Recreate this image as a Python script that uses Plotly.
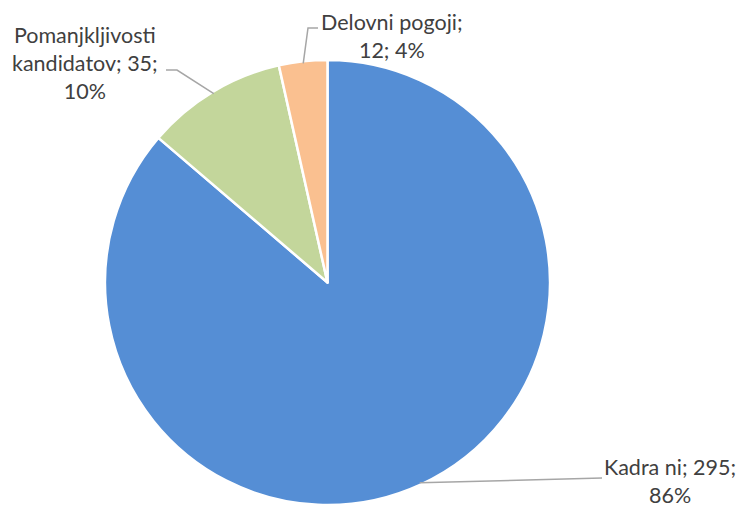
import math
import plotly.graph_objects as go

labels = ["Kadra ni", "Pomanjkljivosti kandidatov", "Delovni pogoji"]
values = [295, 35, 12]
percents = ["86%", "10%", "4%"]
label_texts = ["Kadra ni; 295;<br>86%", "Pomanjkljivosti<br>kandidatov; 35;<br>10%", "Delovni pogoji;<br>12; 4%"]
colors = ["#558ED5", "#C3D69B", "#FAC090"]

W, H = 744, 508
OFF = 8  # page body margin
cx, cy, r = 327.5 - OFF, 282.5 - OFF, 220.5
r_dom = r + 2

# label block centres and leader elbow points (page pixels)
label_pos = [(670, 481), (85, 63), (392, 36)]
elbows = [[(602, 478)], [(177, 70), (166, 70)], [(308, 28), (318, 28)]]

fig = go.Figure(go.Pie(
    labels=labels, values=values, sort=False, direction="clockwise", rotation=0,
    marker=dict(colors=colors, line=dict(color="white", width=2.5)),
    textinfo="none", hoverinfo="label+value+percent",
    domain=dict(x=[(cx - r_dom) / W, (cx + r_dom) / W], y=[(H - cy - r_dom) / H, (H - cy + r_dom) / H]),
    showlegend=False,
))

def px(x, y):
    return x / W, 1 - y / H

total = sum(values)
cum = 0
shapes = []
annotations = []
for i, v in enumerate(values):
    mid = (cum + v / 2) / total * 2 * math.pi
    cum += v
    ex, ey = cx + r * math.sin(mid), cy - r * math.cos(mid)
    pts = [(ex, ey)] + [(x - OFF, y - OFF) for x, y in elbows[i]]
    path = "M " + " L ".join(f"{px(x, y)[0]:.5f},{px(x, y)[1]:.5f}" for x, y in pts)
    shapes.append(dict(type="path", xref="paper", yref="paper", path=path,
                       line=dict(color="#A6A6A6", width=1.5)))
    lx, ly = px(label_pos[i][0] - OFF, label_pos[i][1] - OFF)
    annotations.append(dict(x=lx, y=ly, xref="paper", yref="paper", text=label_texts[i],
                            showarrow=False, align="center", xanchor="center", yanchor="middle",
                            font=dict(family="Lato", size=21.5, color="#404040")))

fig.update_layout(
    width=W, height=H, margin=dict(l=0, r=0, t=0, b=0),
    paper_bgcolor="white", plot_bgcolor="white",
    shapes=shapes, annotations=annotations,
)
fig.write_html("out.html")
